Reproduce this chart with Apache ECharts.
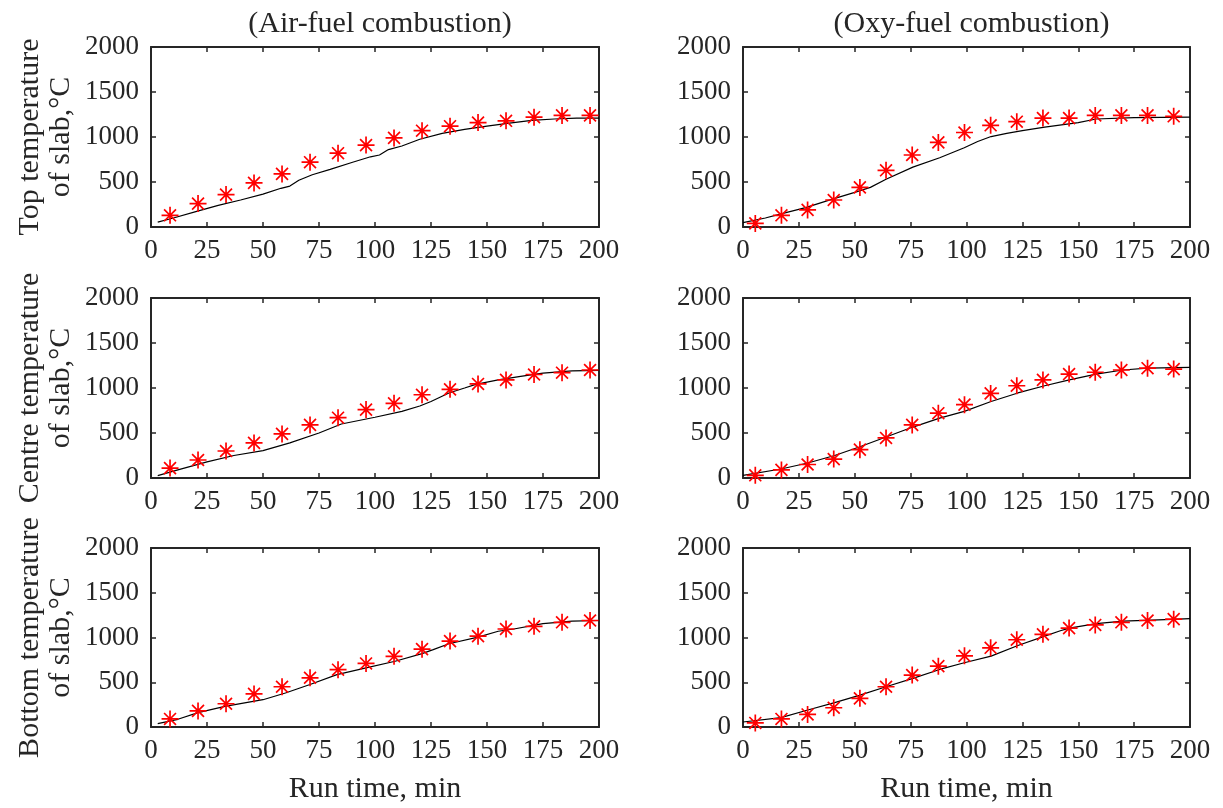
<!DOCTYPE html>
<html>
<head>
<meta charset="utf-8">
<script src="https://cdn.jsdelivr.net/npm/echarts@6/dist/echarts.min.js"></script>
<style>
  html, body { margin: 0; padding: 0; background: #fff; }
  #chart { width: 1223px; height: 808px; }
</style>
</head>
<body>
<div id="chart"></div>
<script>
// Measurement times (min) for the two furnace cases
const timeAir = [8.5, 21, 33.5, 46, 58.5, 71, 83.5, 96, 108.5, 121, 133.5, 146, 158.5, 171, 183.5, 196];
const timeOxy = [5.5, 17.2, 28.9, 40.6, 52.3, 64, 75.7, 87.4, 99.1, 110.8, 122.5, 134.2, 145.9, 157.6, 169.3, 181, 192.7];

// Measured slab temperatures (°C)
const topAirMeas    = [130, 260, 360, 490, 590, 720, 820, 910, 990, 1070, 1120, 1160, 1180, 1220, 1240, 1240];
const topOxyMeas    = [40, 130, 190, 300, 440, 630, 800, 940, 1050, 1130, 1170, 1210, 1210, 1240, 1240, 1240, 1230];
const centreAirMeas = [110, 200, 300, 390, 490, 590, 670, 760, 830, 925, 985, 1045, 1090, 1150, 1170, 1200];
const centreOxyMeas = [30, 90, 150, 210, 315, 445, 590, 720, 815, 940, 1025, 1090, 1155, 1175, 1200, 1220, 1210];
const bottomAirMeas = [90, 180, 260, 370, 450, 550, 640, 710, 790, 870, 960, 1015, 1095, 1125, 1170, 1190];
const bottomOxyMeas = [45, 90, 140, 215, 320, 450, 580, 680, 795, 885, 975, 1035, 1105, 1140, 1170, 1190, 1205];

// Predicted slab temperatures: [time (min), temperature (°C)]
const topAirModel = [[3,55],[10,100],[20,170],[30,240],[40,300],[50,365],[58,430],[62,455],[66,520],[72,580],[80,640],[90,720],[98,780],[102,800],[106,860],[112,900],[120,975],[130,1040],[140,1085],[150,1120],[160,1155],[170,1185],[180,1200],[190,1210],[200,1210]];
const topOxyModel = [[0,48],[10,100],[17,145],[28,215],[40,310],[50,385],[57,440],[64,530],[76,665],[88,770],[99,880],[105,950],[111,1005],[118,1040],[125,1070],[135,1110],[150,1160],[158,1200],[175,1215],[200,1220]];
const centreAirModel = [[3,26],[12,90],[25,180],[37,250],[50,305],[62,390],[75,500],[85,600],[100,675],[112,740],[120,800],[125,850],[133,945],[140,1000],[145,1040],[155,1090],[165,1130],[175,1165],[188,1190],[200,1195]];
const centreOxyModel = [[0,30],[17,100],[29,167],[41,250],[52,345],[64,455],[76,566],[88,665],[99,740],[111,850],[123,945],[135,1025],[146,1090],[158,1155],[170,1200],[181,1220],[200,1230]];
const bottomAirModel = [[3,37],[12,86],[21,160],[33,230],[50,305],[60,380],[71,475],[83,585],[96,660],[109,735],[121,820],[126,865],[133,930],[146,1005],[155,1070],[162,1095],[175,1155],[188,1183],[200,1190]];
const bottomOxyModel = [[0,56],[17,104],[29,190],[41,272],[52,353],[64,450],[76,543],[88,643],[99,718],[111,792],[123,910],[135,1015],[142,1075],[146,1105],[158,1155],[170,1183],[192,1202],[200,1210]];

// Axis ranges and labels
const xMin = 0, xMax = 200, xStep = 25;
const yMin = 0, yMax = 2000, yStep = 500;
const columnTitles = ['(Air-fuel combustion)', '(Oxy-fuel combustion)'];
const rowNames = ['Top temperature\nof slab,°C', 'Centre temperature\nof slab,°C', 'Bottom temperature\nof slab,°C'];
const xName = 'Run time, min';

const panels = [
  { row: 0, col: 0, t: timeAir, meas: topAirMeas,    model: topAirModel },
  { row: 0, col: 1, t: timeOxy, meas: topOxyMeas,    model: topOxyModel },
  { row: 1, col: 0, t: timeAir, meas: centreAirMeas, model: centreAirModel },
  { row: 1, col: 1, t: timeOxy, meas: centreOxyMeas, model: centreOxyModel },
  { row: 2, col: 0, t: timeAir, meas: bottomAirMeas, model: bottomAirModel },
  { row: 2, col: 1, t: timeOxy, meas: bottomOxyMeas, model: bottomOxyModel }
];

const FONT = 'Liberation Serif';
const TEXT = '#262626';
const FRAME = '#262626';
const colLeft = [151, 743];
const colWidth = [448, 447];
const rowTop = [47, 298, 548];
const rowHeight = [180, 180, 179];

const asterisk = 'path://M10,0L10,20M0,10L20,10M3,3L17,17M3,17L17,3';
const plain = v => String(v);

const grid = [], xAxis = [], yAxis = [], series = [], title = [];

panels.forEach((p, i) => {
  grid.push({ left: colLeft[p.col], top: rowTop[p.row], width: colWidth[p.col], height: rowHeight[p.row] });
  const lineStyle = { color: FRAME, width: 2 };
  const tick = { inside: true, length: 5, lineStyle: { color: FRAME, width: 1.5 } };
  // bottom axis with labels
  xAxis.push({
    type: 'value', gridIndex: i, min: xMin, max: xMax, interval: xStep, position: 'bottom',
    axisLine: { show: true, onZero: false, lineStyle }, axisTick: tick, splitLine: { show: false },
    axisLabel: { fontFamily: FONT, fontSize: 27, color: TEXT, margin: 10, formatter: plain },
    name: p.row === 2 ? xName : '', nameLocation: 'middle', nameGap: 47,
    nameTextStyle: { fontFamily: FONT, fontSize: 30, color: TEXT }
  });
  // top mirror axis
  xAxis.push({
    type: 'value', gridIndex: i, min: xMin, max: xMax, interval: xStep, position: 'top',
    axisLine: { show: true, onZero: false, lineStyle }, axisTick: tick, splitLine: { show: false },
    axisLabel: { show: false }
  });
  yAxis.push({
    type: 'value', gridIndex: i, min: yMin, max: yMax, interval: yStep, position: 'left',
    axisLine: { show: true, onZero: false, lineStyle }, axisTick: tick, splitLine: { show: false },
    axisLabel: { fontFamily: FONT, fontSize: 27, color: TEXT, margin: 12, formatter: plain },
    name: p.col === 0 ? rowNames[p.row] : '', nameLocation: 'middle', nameGap: 74, nameRotate: 90,
    nameTextStyle: { fontFamily: FONT, fontSize: 30, color: TEXT, lineHeight: 31 }
  });
  // right mirror axis
  yAxis.push({
    type: 'value', gridIndex: i, min: yMin, max: yMax, interval: yStep, position: 'right',
    axisLine: { show: true, onZero: false, lineStyle }, axisTick: tick, splitLine: { show: false },
    axisLabel: { show: false }
  });
  series.push({
    type: 'line', xAxisIndex: 2 * i, yAxisIndex: 2 * i, data: p.model,
    showSymbol: false, symbol: 'none', smooth: false, silent: true,
    lineStyle: { color: '#000', width: 1.2 }, z: 2
  });
  series.push({
    type: 'scatter', xAxisIndex: 2 * i, yAxisIndex: 2 * i,
    data: p.t.map((t, k) => [t, p.meas[k]]),
    symbol: asterisk, symbolSize: 17, silent: true,
    itemStyle: { color: '#ff0000', borderColor: '#ff0000', borderWidth: 1.7, opacity: 1 }, z: 3
  });
});

columnTitles.forEach((txt, c) => {
  title.push({
    text: txt, left: colLeft[c] + colWidth[c] / 2, top: 4, textAlign: 'center',
    textStyle: { fontFamily: FONT, fontSize: 30, fontWeight: 'normal', color: TEXT }
  });
});

const chart = echarts.init(document.getElementById('chart'), null, { renderer: 'canvas' });
chart.setOption({ animation: false, backgroundColor: '#fff', title, grid, xAxis, yAxis, series });
</script>
</body>
</html>
